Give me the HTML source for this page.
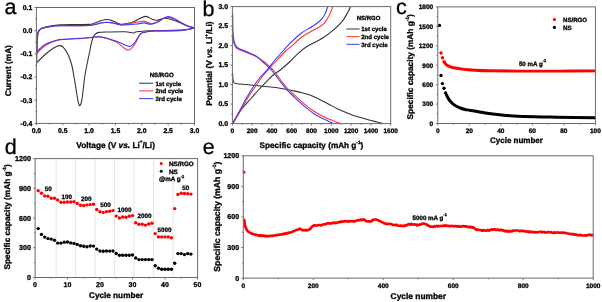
<!DOCTYPE html>
<html><head><meta charset="utf-8"><style>
html,body{margin:0;padding:0;background:#fff;width:602px;height:302px;overflow:hidden}
svg{display:block;filter:blur(0.3px)}
text{font-family:"Liberation Sans",sans-serif;fill:#000;stroke:#000;stroke-width:0.3px;text-rendering:geometricPrecision}
</style></head><body>
<svg width="602" height="302" viewBox="0 0 602 302">
<defs>
<clipPath id="ca"><rect x="36.4" y="7.5" width="158.1" height="115.9"/></clipPath>
<clipPath id="cb"><rect x="232.4" y="6.6" width="158.29999999999998" height="117.0"/></clipPath>
<clipPath id="cc"><rect x="437.8" y="6.9" width="157.59999999999997" height="116.6"/></clipPath>
<clipPath id="ce"><rect x="243.3" y="155.8" width="349.90000000000003" height="122.30000000000001"/></clipPath>
</defs>
<rect width="602" height="302" fill="#fff"/>
<g clip-path="url(#ca)">
<path d="M194.5 27.8 C193.18 28.08 190.43 29.08 186.6 29.5 C182.77 29.92 177.88 30.1 171.5 30.3 C165.12 30.5 154.12 30.45 148.3 30.7 C142.48 30.95 139.13 31.42 136.6 31.8 C134.07 32.18 135.03 33 133.1 33 C131.17 33 129.28 31.97 125 31.8 C120.72 31.63 111.73 31.9 107.4 32 C103.07 32.1 100.98 32.07 99 32.4 C97.02 32.73 96.5 33.15 95.5 34 C94.5 34.85 93.72 35.83 93 37.5 C92.28 39.17 91.7 41.92 91.2 44 C90.7 46.08 90.62 47 90 50 C89.38 53 88.33 57.83 87.5 62 C86.67 66.17 85.67 70.83 85 75 C84.33 79.17 83.95 83.33 83.5 87 C83.05 90.67 82.68 94.33 82.3 97 C81.92 99.67 81.58 101.58 81.2 103 C80.82 104.42 80.4 105.25 80 105.5 C79.6 105.75 79.2 105.58 78.8 104.5 C78.4 103.42 78.07 101.58 77.6 99 C77.13 96.42 76.65 93 76 89 C75.35 85 74.37 78.83 73.7 75 C73.03 71.17 72.62 68.58 72 66 C71.38 63.42 70.75 61.58 70 59.5 C69.25 57.42 68.33 55.17 67.5 53.5 C66.67 51.83 65.83 50.67 65 49.5 C64.17 48.33 63.33 47.15 62.5 46.5 C61.67 45.85 60.92 45.65 60 45.6 C59.08 45.55 58.17 45.72 57 46.2 C55.83 46.68 54.17 47.78 53 48.5 C51.83 49.22 51.5 49.33 50 50.5 C48.5 51.67 45.75 53.92 44 55.5 C42.25 57.08 40.72 58.83 39.5 60 C38.28 61.17 37.17 62.08 36.7 62.5" fill="none" stroke="#333" stroke-width="1.08" stroke-linejoin="round" stroke-linecap="round" />
<path d="M36.7 62.5 C36.75 60.08 36.82 52.58 37 48 C37.18 43.42 37.38 38 37.8 35 C38.22 32 38.8 31.17 39.5 30 C40.2 28.83 40.25 28.67 42 28 C43.75 27.33 47 26.53 50 26 C53 25.47 55.83 25.05 60 24.8 C64.17 24.55 70.17 24.57 75 24.5 C79.83 24.43 85.67 24.65 89 24.4 C92.33 24.15 93.17 23.57 95 23 C96.83 22.43 98 21.58 100 21 C102 20.42 104.83 19.5 107 19.5 C109.17 19.5 110.75 20.22 113 21 C115.25 21.78 118.5 23.75 120.5 24.2 C122.5 24.65 123.08 23.98 125 23.7 C126.92 23.42 129.67 23.28 132 22.5 C134.33 21.72 136.72 20.02 139 19 C141.28 17.98 143.38 16.3 145.7 16.4 C148.02 16.5 151.12 18.97 152.9 19.6 C154.68 20.23 155.23 20.2 156.4 20.2 C157.57 20.2 158.55 19.93 159.9 19.6 C161.25 19.27 162.57 18.2 164.5 18.2 C166.43 18.2 168.97 18.88 171.5 19.6 C174.03 20.32 176.98 21.43 179.7 22.5 C182.42 23.57 185.33 25.12 187.8 26 C190.27 26.88 193.38 27.5 194.5 27.8" fill="none" stroke="#333" stroke-width="1.08" stroke-linejoin="round" stroke-linecap="round" />
<path d="M194.5 27.8 C193.38 28.08 190.67 29.02 187.8 29.5 C184.93 29.98 182.92 30.45 177.3 30.7 C171.68 30.95 159.72 30.72 154.1 31 C148.48 31.28 145.98 31.77 143.6 32.4 C141.22 33.03 141.2 32.95 139.8 34.8 C138.4 36.65 136.67 41.17 135.2 43.5 C133.73 45.83 132.17 47.72 131 48.8 C129.83 49.88 129.12 49.97 128.2 50 C127.28 50.03 126.27 49.4 125.5 49 C124.73 48.6 125.07 48.7 123.6 47.6 C122.13 46.5 118.58 43.63 116.7 42.4 C114.82 41.17 114.25 40.93 112.3 40.2 C110.35 39.47 107.32 38.55 105 38 C102.68 37.45 100.47 37 98.4 36.9 C96.33 36.8 94.83 37.17 92.6 37.4 C90.37 37.63 87.77 38.07 85 38.3 C82.23 38.53 79.83 38.6 76 38.8 C72.17 39 65.67 39.1 62 39.5 C58.33 39.9 56.67 40.28 54 41.2 C51.33 42.12 48.33 43.53 46 45 C43.67 46.47 41.55 48.5 40 50 C38.45 51.5 37.25 53.33 36.7 54" fill="none" stroke="#ff3030" stroke-width="1.08" stroke-linejoin="round" stroke-linecap="round" />
<path d="M36.7 54 C36.75 52 36.82 45.5 37 42 C37.18 38.5 37.38 35 37.8 33 C38.22 31 38.8 30.75 39.5 30 C40.2 29.25 40.25 29.03 42 28.5 C43.75 27.97 47 27.25 50 26.8 C53 26.35 55.83 26 60 25.8 C64.17 25.6 70.17 25.65 75 25.6 C79.83 25.55 85.67 25.68 89 25.5 C92.33 25.32 93.17 24.88 95 24.5 C96.83 24.12 98 23.58 100 23.2 C102 22.82 104.83 22.23 107 22.2 C109.17 22.17 110.83 22.57 113 23 C115.17 23.43 118 24.58 120 24.8 C122 25.02 122.82 24.62 125 24.3 C127.18 23.98 130.77 23.32 133.1 22.9 C135.43 22.48 137.15 22.05 139 21.8 C140.85 21.55 142.08 21.08 144.2 21.4 C146.32 21.72 149.47 23.6 151.7 23.7 C153.93 23.8 155.27 23.07 157.6 22 C159.93 20.93 163 17.8 165.7 17.3 C168.4 16.8 171.28 18.13 173.8 19 C176.32 19.87 178.47 21.33 180.8 22.5 C183.13 23.67 185.52 25.12 187.8 26 C190.08 26.88 193.38 27.5 194.5 27.8" fill="none" stroke="#ff3030" stroke-width="1.08" stroke-linejoin="round" stroke-linecap="round" />
<path d="M194.5 27.8 C193.38 28.08 190.67 29.02 187.8 29.5 C184.93 29.98 182.92 30.45 177.3 30.7 C171.68 30.95 159.72 30.72 154.1 31 C148.48 31.28 145.98 31.82 143.6 32.4 C141.22 32.98 141.2 32.9 139.8 34.5 C138.4 36.1 136.58 40.15 135.2 42 C133.82 43.85 132.47 44.87 131.5 45.6 C130.53 46.33 130.15 46.37 129.4 46.4 C128.65 46.43 127.77 46.05 127 45.8 C126.23 45.55 126.52 45.67 124.8 44.9 C123.08 44.13 118.78 42.02 116.7 41.2 C114.62 40.38 114.25 40.57 112.3 40 C110.35 39.43 107.32 38.35 105 37.8 C102.68 37.25 100.47 36.8 98.4 36.7 C96.33 36.6 94.83 36.98 92.6 37.2 C90.37 37.42 87.77 37.78 85 38 C82.23 38.22 79.83 38.28 76 38.5 C72.17 38.72 65.67 38.88 62 39.3 C58.33 39.72 56.67 40.22 54 41 C51.33 41.78 48.33 42.75 46 44 C43.67 45.25 41.55 47.17 40 48.5 C38.45 49.83 37.25 51.42 36.7 52" fill="none" stroke="#3a3aff" stroke-width="1.08" stroke-linejoin="round" stroke-linecap="round" />
<path d="M36.7 52 C36.75 50.17 36.82 44.17 37 41 C37.18 37.83 37.38 34.83 37.8 33 C38.22 31.17 38.8 30.75 39.5 30 C40.2 29.25 40.25 29.03 42 28.5 C43.75 27.97 47 27.25 50 26.8 C53 26.35 55.83 26 60 25.8 C64.17 25.6 70.17 25.65 75 25.6 C79.83 25.55 85.67 25.68 89 25.5 C92.33 25.32 93.17 24.88 95 24.5 C96.83 24.12 98 23.58 100 23.2 C102 22.82 104.83 22.23 107 22.2 C109.17 22.17 110.83 22.57 113 23 C115.17 23.43 118 24.48 120 24.8 C122 25.12 122.23 25.03 125 24.9 C127.77 24.77 133.4 24.33 136.6 24 C139.8 23.67 141.87 22.85 144.2 22.9 C146.53 22.95 148.37 24.45 150.6 24.3 C152.83 24.15 154.8 23.27 157.6 22 C160.4 20.73 164.5 17.2 167.4 16.7 C170.3 16.2 172.77 18.03 175 19 C177.23 19.97 178.67 21.33 180.8 22.5 C182.93 23.67 185.52 25.12 187.8 26 C190.08 26.88 193.38 27.5 194.5 27.8" fill="none" stroke="#3a3aff" stroke-width="1.08" stroke-linejoin="round" stroke-linecap="round" />
</g>
<rect x="36.4" y="7.5" width="158.1" height="115.9" fill="none" stroke="#6a6a6a" stroke-width="1.0"/>
<line x1="36.4" y1="123.4" x2="36.4" y2="125.4" stroke="#6a6a6a" stroke-width="0.9"/>
<text x="36.4" y="133.1" font-size="6.8" text-anchor="middle" font-weight="bold" >0.0</text>
<line x1="62.75" y1="123.4" x2="62.75" y2="125.4" stroke="#6a6a6a" stroke-width="0.9"/>
<text x="62.75" y="133.1" font-size="6.8" text-anchor="middle" font-weight="bold" >0.5</text>
<line x1="89.1" y1="123.4" x2="89.1" y2="125.4" stroke="#6a6a6a" stroke-width="0.9"/>
<text x="89.1" y="133.1" font-size="6.8" text-anchor="middle" font-weight="bold" >1.0</text>
<line x1="115.45" y1="123.4" x2="115.45" y2="125.4" stroke="#6a6a6a" stroke-width="0.9"/>
<text x="115.45" y="133.1" font-size="6.8" text-anchor="middle" font-weight="bold" >1.5</text>
<line x1="141.8" y1="123.4" x2="141.8" y2="125.4" stroke="#6a6a6a" stroke-width="0.9"/>
<text x="141.8" y="133.1" font-size="6.8" text-anchor="middle" font-weight="bold" >2.0</text>
<line x1="168.15" y1="123.4" x2="168.15" y2="125.4" stroke="#6a6a6a" stroke-width="0.9"/>
<text x="168.15" y="133.1" font-size="6.8" text-anchor="middle" font-weight="bold" >2.5</text>
<line x1="194.5" y1="123.4" x2="194.5" y2="125.4" stroke="#6a6a6a" stroke-width="0.9"/>
<text x="194.5" y="133.1" font-size="6.8" text-anchor="middle" font-weight="bold" >3.0</text>
<line x1="49.57" y1="123.4" x2="49.57" y2="124.6" stroke="#6a6a6a" stroke-width="0.9"/>
<line x1="75.92" y1="123.4" x2="75.92" y2="124.6" stroke="#6a6a6a" stroke-width="0.9"/>
<line x1="102.28" y1="123.4" x2="102.28" y2="124.6" stroke="#6a6a6a" stroke-width="0.9"/>
<line x1="128.62" y1="123.4" x2="128.62" y2="124.6" stroke="#6a6a6a" stroke-width="0.9"/>
<line x1="154.97" y1="123.4" x2="154.97" y2="124.6" stroke="#6a6a6a" stroke-width="0.9"/>
<line x1="181.32" y1="123.4" x2="181.32" y2="124.6" stroke="#6a6a6a" stroke-width="0.9"/>
<line x1="36.4" y1="7.5" x2="34.4" y2="7.5" stroke="#6a6a6a" stroke-width="0.9"/>
<text x="32.3" y="9.9" font-size="6.9" text-anchor="end" font-weight="bold" >0.1</text>
<line x1="36.4" y1="30.68" x2="34.4" y2="30.68" stroke="#6a6a6a" stroke-width="0.9"/>
<text x="32.3" y="33.08" font-size="6.9" text-anchor="end" font-weight="bold" >0.0</text>
<line x1="36.4" y1="53.86" x2="34.4" y2="53.86" stroke="#6a6a6a" stroke-width="0.9"/>
<text x="32.3" y="56.26" font-size="6.9" text-anchor="end" font-weight="bold" >-0.1</text>
<line x1="36.4" y1="77.04" x2="34.4" y2="77.04" stroke="#6a6a6a" stroke-width="0.9"/>
<text x="32.3" y="79.44" font-size="6.9" text-anchor="end" font-weight="bold" >-0.2</text>
<line x1="36.4" y1="100.22" x2="34.4" y2="100.22" stroke="#6a6a6a" stroke-width="0.9"/>
<text x="32.3" y="102.62" font-size="6.9" text-anchor="end" font-weight="bold" >-0.3</text>
<line x1="36.4" y1="123.4" x2="34.4" y2="123.4" stroke="#6a6a6a" stroke-width="0.9"/>
<text x="32.3" y="125.8" font-size="6.9" text-anchor="end" font-weight="bold" >-0.4</text>
<line x1="36.4" y1="19.09" x2="35.2" y2="19.09" stroke="#6a6a6a" stroke-width="0.9"/>
<line x1="36.4" y1="42.27" x2="35.2" y2="42.27" stroke="#6a6a6a" stroke-width="0.9"/>
<line x1="36.4" y1="65.45" x2="35.2" y2="65.45" stroke="#6a6a6a" stroke-width="0.9"/>
<line x1="36.4" y1="88.63" x2="35.2" y2="88.63" stroke="#6a6a6a" stroke-width="0.9"/>
<line x1="36.4" y1="111.81" x2="35.2" y2="111.81" stroke="#6a6a6a" stroke-width="0.9"/>
<text transform="translate(10.6 70.7) rotate(-90)" x="0" y="0" font-size="8.3" text-anchor="middle" font-weight="bold">Current (mA)</text>
<text x="76.3" y="147.7" font-size="8.3" text-anchor="start" font-weight="bold" >Voltage (V <tspan font-style="italic">vs.</tspan> Li<tspan font-size="4.6" dy="-4.3">+</tspan><tspan dy="4.3">/Li)</tspan></text>
<text x="161.7" y="77.4" font-size="6.1" text-anchor="middle" font-weight="bold" >NS/RGO</text>
<line x1="139.1" y1="83.2" x2="153.2" y2="83.2" stroke="#333" stroke-width="1"/>
<text x="155.4" y="85.5" font-size="6.1" text-anchor="start" font-weight="bold" >1st cycle</text>
<line x1="139.1" y1="90.9" x2="153.2" y2="90.9" stroke="#ff3030" stroke-width="1"/>
<text x="155.4" y="93.2" font-size="6.1" text-anchor="start" font-weight="bold" >2nd cycle</text>
<line x1="139.1" y1="98.6" x2="153.2" y2="98.6" stroke="#3a3aff" stroke-width="1"/>
<text x="155.4" y="100.9" font-size="6.1" text-anchor="start" font-weight="bold" >3rd cycle</text>
<text x="4.5" y="14" font-size="21.5" text-anchor="start" font-weight="normal" >a</text>
<g clip-path="url(#cb)">
<path d="M232.6 73 C232.65 74 232.7 77.42 232.9 79 C233.1 80.58 233.12 81.7 233.8 82.5 C234.48 83.3 234.63 83.42 237 83.8 C239.37 84.18 242.87 84.3 248 84.8 C253.13 85.3 262.47 86.22 267.8 86.8 C273.13 87.38 275.47 87.58 280 88.3 C284.53 89.02 291.17 90.32 295 91.1 C298.83 91.88 300.5 92.35 303 93 C305.5 93.65 307.37 94.02 310 95 C312.63 95.98 315.57 97.3 318.8 98.9 C322.03 100.5 326.32 102.97 329.4 104.6 C332.48 106.23 334.7 107.45 337.3 108.7 C339.9 109.95 342.55 111.07 345 112.1 C347.45 113.13 349.45 113.98 352 114.9 C354.55 115.82 357.3 116.7 360.3 117.6 C363.3 118.5 367.22 119.57 370 120.3 C372.78 121.03 374.8 121.45 377 122 C379.2 122.55 382.17 123.33 383.2 123.6" fill="none" stroke="#333" stroke-width="1.08" stroke-linejoin="round" stroke-linecap="round" />
<path d="M232.6 123.8 C233.25 122.67 235.1 119.3 236.5 117 C237.9 114.7 238.58 113.08 241 110 C243.42 106.92 248.17 101.75 251 98.5 C253.83 95.25 255.67 93.07 258 90.5 C260.33 87.93 262.45 85.68 265 83.1 C267.55 80.52 270.53 77.35 273.3 75 C276.07 72.65 278.82 71.25 281.6 69 C284.38 66.75 287.23 64.12 290 61.5 C292.77 58.88 295.45 55.77 298.2 53.3 C300.95 50.83 303.7 48.53 306.5 46.7 C309.3 44.87 311.92 44 315 42.3 C318.08 40.6 321.87 38.6 325 36.5 C328.13 34.4 330.9 32.27 333.8 29.7 C336.7 27.13 340.08 23.97 342.4 21.1 C344.72 18.23 346.35 14.92 347.7 12.5 C349.05 10.08 350.03 7.58 350.5 6.6" fill="none" stroke="#333" stroke-width="1.08" stroke-linejoin="round" stroke-linecap="round" />
<path d="M232.7 36 C232.83 37 233.12 40.33 233.5 42 C233.88 43.67 234.25 44.83 235 46 C235.75 47.17 235.67 47.75 238 49 C240.33 50.25 246 52.25 249 53.5 C252 54.75 253.53 55.17 256 56.5 C258.47 57.83 261.63 59.92 263.8 61.5 C265.97 63.08 267.02 64.08 269 66 C270.98 67.92 273.7 70.58 275.7 73 C277.7 75.42 279.02 77.92 281 80.5 C282.98 83.08 285.27 85.98 287.6 88.5 C289.93 91.02 292.67 93.42 295 95.6 C297.33 97.78 299.4 99.68 301.6 101.6 C303.8 103.52 306 105.4 308.2 107.1 C310.4 108.8 312.58 110.38 314.8 111.8 C317.02 113.22 319.28 114.43 321.5 115.6 C323.72 116.77 325.9 117.83 328.1 118.8 C330.3 119.77 332.62 120.6 334.7 121.4 C336.78 122.2 339.62 123.23 340.6 123.6" fill="none" stroke="#ff3030" stroke-width="1.08" stroke-linejoin="round" stroke-linecap="round" />
<path d="M232.6 123.8 C234 121.5 238.43 114.38 241 110 C243.57 105.62 245.53 101.5 248 97.5 C250.47 93.5 253.47 89.42 255.8 86 C258.13 82.58 259.68 80 262 77 C264.32 74 267.03 71 269.7 68 C272.37 65 275.18 62 278 59 C280.82 56 284.47 52.02 286.6 50 C288.73 47.98 288.32 49.02 290.8 46.9 C293.28 44.78 297.92 39.98 301.5 37.3 C305.08 34.62 308.72 32.95 312.3 30.8 C315.88 28.65 320.13 27.08 323 24.4 C325.87 21.72 327.88 17.67 329.5 14.7 C331.12 11.73 332.17 7.95 332.7 6.6" fill="none" stroke="#ff3030" stroke-width="1.08" stroke-linejoin="round" stroke-linecap="round" />
<path d="M232.7 14 C232.73 16.33 232.77 24 232.9 28 C233.03 32 233.15 35.33 233.5 38 C233.85 40.67 234.25 42.33 235 44 C235.75 45.67 235.67 46.55 238 48 C240.33 49.45 246 51.37 249 52.7 C252 54.03 253.7 54.45 256 56 C258.3 57.55 260.18 59.58 262.8 62 C265.42 64.42 269.17 67.75 271.7 70.5 C274.23 73.25 275.67 75.53 278 78.5 C280.33 81.47 283.7 85.88 285.7 88.3 C287.7 90.72 288.45 91.42 290 93 C291.55 94.58 293.07 96 295 97.8 C296.93 99.6 299.4 101.87 301.6 103.8 C303.8 105.73 306 107.65 308.2 109.4 C310.4 111.15 312.58 112.85 314.8 114.3 C317.02 115.75 319.28 116.97 321.5 118.1 C323.72 119.23 326.12 120.18 328.1 121.1 C330.08 122.02 332.52 123.18 333.4 123.6" fill="none" stroke="#3a3aff" stroke-width="1.08" stroke-linejoin="round" stroke-linecap="round" />
<path d="M232.6 123.8 C233.83 121.5 237.6 114.47 240 110 C242.4 105.53 244.7 101 247 97 C249.3 93 251.63 89.25 253.8 86 C255.97 82.75 257.67 80.33 260 77.5 C262.33 74.67 265.3 71.92 267.8 69 C270.3 66.08 272.35 63.17 275 60 C277.65 56.83 281.07 52.9 283.7 50 C286.33 47.1 287.83 45.43 290.8 42.6 C293.77 39.77 297.92 35.68 301.5 33 C305.08 30.32 309.07 28.67 312.3 26.5 C315.53 24.33 318.75 22.15 320.9 20 C323.05 17.85 324.07 15.83 325.2 13.6 C326.33 11.37 327.28 7.77 327.7 6.6" fill="none" stroke="#3a3aff" stroke-width="1.08" stroke-linejoin="round" stroke-linecap="round" />
</g>
<rect x="232.4" y="6.6" width="158.3" height="117" fill="none" stroke="#6a6a6a" stroke-width="1.0"/>
<line x1="232.4" y1="123.6" x2="232.4" y2="125.6" stroke="#6a6a6a" stroke-width="0.9"/>
<text x="232.4" y="133.2" font-size="6.5" text-anchor="middle" font-weight="bold" >0</text>
<line x1="252.19" y1="123.6" x2="252.19" y2="125.6" stroke="#6a6a6a" stroke-width="0.9"/>
<text x="252.19" y="133.2" font-size="6.5" text-anchor="middle" font-weight="bold" >200</text>
<line x1="271.98" y1="123.6" x2="271.98" y2="125.6" stroke="#6a6a6a" stroke-width="0.9"/>
<text x="271.98" y="133.2" font-size="6.5" text-anchor="middle" font-weight="bold" >400</text>
<line x1="291.76" y1="123.6" x2="291.76" y2="125.6" stroke="#6a6a6a" stroke-width="0.9"/>
<text x="291.76" y="133.2" font-size="6.5" text-anchor="middle" font-weight="bold" >600</text>
<line x1="311.55" y1="123.6" x2="311.55" y2="125.6" stroke="#6a6a6a" stroke-width="0.9"/>
<text x="311.55" y="133.2" font-size="6.5" text-anchor="middle" font-weight="bold" >800</text>
<line x1="331.34" y1="123.6" x2="331.34" y2="125.6" stroke="#6a6a6a" stroke-width="0.9"/>
<text x="331.34" y="133.2" font-size="6.5" text-anchor="middle" font-weight="bold" >1000</text>
<line x1="351.12" y1="123.6" x2="351.12" y2="125.6" stroke="#6a6a6a" stroke-width="0.9"/>
<text x="351.12" y="133.2" font-size="6.5" text-anchor="middle" font-weight="bold" >1200</text>
<line x1="370.91" y1="123.6" x2="370.91" y2="125.6" stroke="#6a6a6a" stroke-width="0.9"/>
<text x="370.91" y="133.2" font-size="6.5" text-anchor="middle" font-weight="bold" >1400</text>
<line x1="390.7" y1="123.6" x2="390.7" y2="125.6" stroke="#6a6a6a" stroke-width="0.9"/>
<text x="390.7" y="133.2" font-size="6.5" text-anchor="middle" font-weight="bold" >1600</text>
<line x1="242.29" y1="123.6" x2="242.29" y2="124.8" stroke="#6a6a6a" stroke-width="0.9"/>
<line x1="262.08" y1="123.6" x2="262.08" y2="124.8" stroke="#6a6a6a" stroke-width="0.9"/>
<line x1="281.87" y1="123.6" x2="281.87" y2="124.8" stroke="#6a6a6a" stroke-width="0.9"/>
<line x1="301.66" y1="123.6" x2="301.66" y2="124.8" stroke="#6a6a6a" stroke-width="0.9"/>
<line x1="321.44" y1="123.6" x2="321.44" y2="124.8" stroke="#6a6a6a" stroke-width="0.9"/>
<line x1="341.23" y1="123.6" x2="341.23" y2="124.8" stroke="#6a6a6a" stroke-width="0.9"/>
<line x1="361.02" y1="123.6" x2="361.02" y2="124.8" stroke="#6a6a6a" stroke-width="0.9"/>
<line x1="380.81" y1="123.6" x2="380.81" y2="124.8" stroke="#6a6a6a" stroke-width="0.9"/>
<line x1="232.4" y1="123.6" x2="230.4" y2="123.6" stroke="#6a6a6a" stroke-width="0.9"/>
<text x="228.1" y="125.7" font-size="6.9" text-anchor="end" font-weight="bold" >0.0</text>
<line x1="232.4" y1="104.1" x2="230.4" y2="104.1" stroke="#6a6a6a" stroke-width="0.9"/>
<text x="228.1" y="106.2" font-size="6.9" text-anchor="end" font-weight="bold" >0.5</text>
<line x1="232.4" y1="84.6" x2="230.4" y2="84.6" stroke="#6a6a6a" stroke-width="0.9"/>
<text x="228.1" y="86.7" font-size="6.9" text-anchor="end" font-weight="bold" >1.0</text>
<line x1="232.4" y1="65.1" x2="230.4" y2="65.1" stroke="#6a6a6a" stroke-width="0.9"/>
<text x="228.1" y="67.2" font-size="6.9" text-anchor="end" font-weight="bold" >1.5</text>
<line x1="232.4" y1="45.6" x2="230.4" y2="45.6" stroke="#6a6a6a" stroke-width="0.9"/>
<text x="228.1" y="47.7" font-size="6.9" text-anchor="end" font-weight="bold" >2.0</text>
<line x1="232.4" y1="26.1" x2="230.4" y2="26.1" stroke="#6a6a6a" stroke-width="0.9"/>
<text x="228.1" y="28.2" font-size="6.9" text-anchor="end" font-weight="bold" >2.5</text>
<line x1="232.4" y1="6.6" x2="230.4" y2="6.6" stroke="#6a6a6a" stroke-width="0.9"/>
<text x="228.1" y="8.7" font-size="6.9" text-anchor="end" font-weight="bold" >3.0</text>
<line x1="232.4" y1="113.85" x2="231.2" y2="113.85" stroke="#6a6a6a" stroke-width="0.9"/>
<line x1="232.4" y1="94.35" x2="231.2" y2="94.35" stroke="#6a6a6a" stroke-width="0.9"/>
<line x1="232.4" y1="74.85" x2="231.2" y2="74.85" stroke="#6a6a6a" stroke-width="0.9"/>
<line x1="232.4" y1="55.35" x2="231.2" y2="55.35" stroke="#6a6a6a" stroke-width="0.9"/>
<line x1="232.4" y1="35.85" x2="231.2" y2="35.85" stroke="#6a6a6a" stroke-width="0.9"/>
<line x1="232.4" y1="16.35" x2="231.2" y2="16.35" stroke="#6a6a6a" stroke-width="0.9"/>
<text transform="translate(211.9 63.7) rotate(-90)" x="0" y="0" font-size="8.3" text-anchor="middle" font-weight="bold">Potential (V <tspan font-style="italic">vs.</tspan> Li<tspan font-size="4.6" dy="-4.3">+</tspan><tspan dy="4.3">/Li)</tspan></text>
<text x="259.6" y="147.7" font-size="8.18" text-anchor="start" font-weight="bold" >Specific capacity (mAh g<tspan font-size="4.8" dy="-4.1">-1</tspan><tspan dy="4.1">)</tspan></text>
<text x="368.6" y="19.6" font-size="6.0" text-anchor="middle" font-weight="bold" >NS/RGO</text>
<line x1="346.4" y1="29" x2="359.6" y2="29" stroke="#333" stroke-width="1"/>
<text x="361.2" y="31.3" font-size="6.1" text-anchor="start" font-weight="bold" >1st cycle</text>
<line x1="346.4" y1="36.65" x2="359.6" y2="36.65" stroke="#ff3030" stroke-width="1"/>
<text x="361.2" y="38.95" font-size="6.1" text-anchor="start" font-weight="bold" >2nd cycle</text>
<line x1="346.4" y1="44.3" x2="359.6" y2="44.3" stroke="#3a3aff" stroke-width="1"/>
<text x="361.2" y="46.6" font-size="6.1" text-anchor="start" font-weight="bold" >3rd cycle</text>
<text x="202.5" y="15.9" font-size="21.5" text-anchor="start" font-weight="normal" >b</text>
<g clip-path="url(#cc)">
<path d="M444.5 62.5 C444.75 62.82 445.38 63.83 446 64.4 C446.62 64.97 447.37 65.47 448.2 65.9 C449.03 66.33 449.88 66.65 451 67 C452.12 67.35 453.07 67.65 454.9 68 C456.73 68.35 458.65 68.73 462 69.1 C465.35 69.47 470.33 69.92 475 70.2 C479.67 70.48 482.5 70.65 490 70.8 C497.5 70.95 508.33 71.05 520 71.1 C531.67 71.15 547.43 71.13 560 71.1 C572.57 71.07 589.5 70.93 595.4 70.9" fill="none" stroke="#ff0000" stroke-width="2.9" stroke-linejoin="round" stroke-linecap="round" />
<circle cx="441" cy="53" r="1.7" fill="#ff0000"/>
<circle cx="442.5" cy="57.8" r="1.7" fill="#ff0000"/>
<circle cx="444" cy="61.8" r="1.7" fill="#ff0000"/>
<path d="M446.5 95 C446.82 95.6 447.73 97.52 448.4 98.6 C449.07 99.68 449.75 100.63 450.5 101.5 C451.25 102.37 451.98 103.05 452.9 103.8 C453.82 104.55 454.77 105.3 456 106 C457.23 106.7 458.8 107.42 460.3 108 C461.8 108.58 463.27 109.1 465 109.5 C466.73 109.9 466.98 109.77 470.7 110.4 C474.42 111.03 482.42 112.57 487.3 113.3 C492.18 114.03 495.68 114.37 500 114.8 C504.32 115.23 507.4 115.57 513.2 115.9 C519 116.23 527.6 116.58 534.8 116.8 C542 117.02 546.3 117.05 556.4 117.2 C566.5 117.35 588.9 117.62 595.4 117.7" fill="none" stroke="#000" stroke-width="3.0" stroke-linejoin="round" stroke-linecap="round" />
<circle cx="439.5" cy="25.4" r="1.7" fill="#000"/>
<circle cx="441" cy="75.4" r="1.7" fill="#000"/>
<circle cx="442.4" cy="83.6" r="1.7" fill="#000"/>
<circle cx="444" cy="88.2" r="1.7" fill="#000"/>
<circle cx="445.6" cy="92.9" r="1.7" fill="#000"/>
</g>
<rect x="437.8" y="6.9" width="157.6" height="116.6" fill="none" stroke="#6a6a6a" stroke-width="1.0"/>
<line x1="437.8" y1="123.5" x2="437.8" y2="125.5" stroke="#6a6a6a" stroke-width="0.9"/>
<text x="437.8" y="133.2" font-size="6.5" text-anchor="middle" font-weight="bold" >0</text>
<line x1="469.32" y1="123.5" x2="469.32" y2="125.5" stroke="#6a6a6a" stroke-width="0.9"/>
<text x="469.32" y="133.2" font-size="6.5" text-anchor="middle" font-weight="bold" >20</text>
<line x1="500.84" y1="123.5" x2="500.84" y2="125.5" stroke="#6a6a6a" stroke-width="0.9"/>
<text x="500.84" y="133.2" font-size="6.5" text-anchor="middle" font-weight="bold" >40</text>
<line x1="532.36" y1="123.5" x2="532.36" y2="125.5" stroke="#6a6a6a" stroke-width="0.9"/>
<text x="532.36" y="133.2" font-size="6.5" text-anchor="middle" font-weight="bold" >60</text>
<line x1="563.88" y1="123.5" x2="563.88" y2="125.5" stroke="#6a6a6a" stroke-width="0.9"/>
<text x="563.88" y="133.2" font-size="6.5" text-anchor="middle" font-weight="bold" >80</text>
<line x1="595.4" y1="123.5" x2="595.4" y2="125.5" stroke="#6a6a6a" stroke-width="0.9"/>
<text x="595.4" y="133.2" font-size="6.5" text-anchor="middle" font-weight="bold" >100</text>
<line x1="453.56" y1="123.5" x2="453.56" y2="124.7" stroke="#6a6a6a" stroke-width="0.9"/>
<line x1="485.08" y1="123.5" x2="485.08" y2="124.7" stroke="#6a6a6a" stroke-width="0.9"/>
<line x1="516.6" y1="123.5" x2="516.6" y2="124.7" stroke="#6a6a6a" stroke-width="0.9"/>
<line x1="548.12" y1="123.5" x2="548.12" y2="124.7" stroke="#6a6a6a" stroke-width="0.9"/>
<line x1="579.64" y1="123.5" x2="579.64" y2="124.7" stroke="#6a6a6a" stroke-width="0.9"/>
<line x1="437.8" y1="123.5" x2="435.8" y2="123.5" stroke="#6a6a6a" stroke-width="0.9"/>
<text x="433.2" y="125.8" font-size="6.5" text-anchor="end" font-weight="bold" >0</text>
<line x1="437.8" y1="104.07" x2="435.8" y2="104.07" stroke="#6a6a6a" stroke-width="0.9"/>
<text x="433.2" y="106.37" font-size="6.5" text-anchor="end" font-weight="bold" >300</text>
<line x1="437.8" y1="84.63" x2="435.8" y2="84.63" stroke="#6a6a6a" stroke-width="0.9"/>
<text x="433.2" y="86.93" font-size="6.5" text-anchor="end" font-weight="bold" >600</text>
<line x1="437.8" y1="65.2" x2="435.8" y2="65.2" stroke="#6a6a6a" stroke-width="0.9"/>
<text x="433.2" y="67.5" font-size="6.5" text-anchor="end" font-weight="bold" >900</text>
<line x1="437.8" y1="45.77" x2="435.8" y2="45.77" stroke="#6a6a6a" stroke-width="0.9"/>
<text x="433.2" y="48.07" font-size="6.5" text-anchor="end" font-weight="bold" >1200</text>
<line x1="437.8" y1="26.33" x2="435.8" y2="26.33" stroke="#6a6a6a" stroke-width="0.9"/>
<text x="433.2" y="28.63" font-size="6.5" text-anchor="end" font-weight="bold" >1500</text>
<line x1="437.8" y1="6.9" x2="435.8" y2="6.9" stroke="#6a6a6a" stroke-width="0.9"/>
<text x="433.2" y="9.2" font-size="6.5" text-anchor="end" font-weight="bold" >1800</text>
<line x1="437.8" y1="113.78" x2="436.6" y2="113.78" stroke="#6a6a6a" stroke-width="0.9"/>
<line x1="437.8" y1="94.35" x2="436.6" y2="94.35" stroke="#6a6a6a" stroke-width="0.9"/>
<line x1="437.8" y1="74.92" x2="436.6" y2="74.92" stroke="#6a6a6a" stroke-width="0.9"/>
<line x1="437.8" y1="55.48" x2="436.6" y2="55.48" stroke="#6a6a6a" stroke-width="0.9"/>
<line x1="437.8" y1="36.05" x2="436.6" y2="36.05" stroke="#6a6a6a" stroke-width="0.9"/>
<line x1="437.8" y1="16.62" x2="436.6" y2="16.62" stroke="#6a6a6a" stroke-width="0.9"/>
<text transform="translate(412.6 66.8) rotate(-90)" x="0" y="0" font-size="8.3" text-anchor="middle" font-weight="bold">Specific capacity (mAh g<tspan font-size="4.8" dy="-4.1">-1</tspan><tspan dy="4.1">)</tspan></text>
<text x="490" y="143.3" font-size="8.0" text-anchor="start" font-weight="bold" >Cycle number</text>
<circle cx="554.4" cy="19.5" r="1.6" fill="#ff0000"/>
<circle cx="554.4" cy="27.4" r="1.6" fill="#000"/>
<text x="563" y="21.7" font-size="6.1" text-anchor="start" font-weight="bold" >NS/RGO</text>
<text x="563" y="29.5" font-size="6.2" text-anchor="start" font-weight="bold" >NS</text>
<text x="518.9" y="66" font-size="6.2" text-anchor="start" font-weight="bold" >50 mA g<tspan font-size="4" dy="-3.6">-1</tspan></text>
<text x="396" y="14.2" font-size="21.5" text-anchor="start" font-weight="normal" >c</text>
<line x1="56.08" y1="158.6" x2="56.08" y2="277.5" stroke="#aaa" stroke-width="0.6" stroke-dasharray="1 1"/>
<line x1="75.58" y1="158.6" x2="75.58" y2="277.5" stroke="#aaa" stroke-width="0.6" stroke-dasharray="1 1"/>
<line x1="95.08" y1="158.6" x2="95.08" y2="277.5" stroke="#aaa" stroke-width="0.6" stroke-dasharray="1 1"/>
<line x1="114.58" y1="158.6" x2="114.58" y2="277.5" stroke="#aaa" stroke-width="0.6" stroke-dasharray="1 1"/>
<line x1="134.07" y1="158.6" x2="134.07" y2="277.5" stroke="#aaa" stroke-width="0.6" stroke-dasharray="1 1"/>
<line x1="153.57" y1="158.6" x2="153.57" y2="277.5" stroke="#aaa" stroke-width="0.6" stroke-dasharray="1 1"/>
<line x1="173.07" y1="158.6" x2="173.07" y2="277.5" stroke="#aaa" stroke-width="0.6" stroke-dasharray="1 1"/>
<circle cx="38.2" cy="190.7" r="1.7" fill="#ff0000"/>
<circle cx="41.45" cy="193.3" r="1.7" fill="#ff0000"/>
<circle cx="44.7" cy="195.9" r="1.7" fill="#ff0000"/>
<circle cx="47.95" cy="196.2" r="1.7" fill="#ff0000"/>
<circle cx="51.2" cy="198.2" r="1.7" fill="#ff0000"/>
<circle cx="54.45" cy="198.3" r="1.7" fill="#ff0000"/>
<circle cx="57.7" cy="199.9" r="1.7" fill="#ff0000"/>
<circle cx="60.95" cy="202.2" r="1.7" fill="#ff0000"/>
<circle cx="64.2" cy="202.2" r="1.7" fill="#ff0000"/>
<circle cx="67.45" cy="202" r="1.7" fill="#ff0000"/>
<circle cx="70.7" cy="202" r="1.7" fill="#ff0000"/>
<circle cx="73.95" cy="201.8" r="1.7" fill="#ff0000"/>
<circle cx="77.2" cy="203.5" r="1.7" fill="#ff0000"/>
<circle cx="80.45" cy="205.3" r="1.7" fill="#ff0000"/>
<circle cx="83.7" cy="205.5" r="1.7" fill="#ff0000"/>
<circle cx="86.95" cy="204.9" r="1.7" fill="#ff0000"/>
<circle cx="90.2" cy="204.6" r="1.7" fill="#ff0000"/>
<circle cx="93.45" cy="204.3" r="1.7" fill="#ff0000"/>
<circle cx="96.7" cy="209.5" r="1.7" fill="#ff0000"/>
<circle cx="99.95" cy="211.8" r="1.7" fill="#ff0000"/>
<circle cx="103.2" cy="212.4" r="1.7" fill="#ff0000"/>
<circle cx="106.45" cy="211.6" r="1.7" fill="#ff0000"/>
<circle cx="109.7" cy="211.2" r="1.7" fill="#ff0000"/>
<circle cx="112.95" cy="210.6" r="1.7" fill="#ff0000"/>
<circle cx="116.2" cy="216.1" r="1.7" fill="#ff0000"/>
<circle cx="119.45" cy="218" r="1.7" fill="#ff0000"/>
<circle cx="122.7" cy="217" r="1.7" fill="#ff0000"/>
<circle cx="125.95" cy="217.2" r="1.7" fill="#ff0000"/>
<circle cx="129.2" cy="216.2" r="1.7" fill="#ff0000"/>
<circle cx="132.45" cy="215.6" r="1.7" fill="#ff0000"/>
<circle cx="135.7" cy="222.8" r="1.7" fill="#ff0000"/>
<circle cx="138.95" cy="224.3" r="1.7" fill="#ff0000"/>
<circle cx="142.2" cy="224.2" r="1.7" fill="#ff0000"/>
<circle cx="145.45" cy="225.1" r="1.7" fill="#ff0000"/>
<circle cx="148.7" cy="224" r="1.7" fill="#ff0000"/>
<circle cx="151.95" cy="223.2" r="1.7" fill="#ff0000"/>
<circle cx="155.2" cy="233.6" r="1.7" fill="#ff0000"/>
<circle cx="158.45" cy="236.9" r="1.7" fill="#ff0000"/>
<circle cx="161.7" cy="236.9" r="1.7" fill="#ff0000"/>
<circle cx="164.95" cy="236.9" r="1.7" fill="#ff0000"/>
<circle cx="168.2" cy="236.9" r="1.7" fill="#ff0000"/>
<circle cx="171.45" cy="237.7" r="1.7" fill="#ff0000"/>
<circle cx="174.7" cy="208.6" r="1.7" fill="#ff0000"/>
<circle cx="177.95" cy="194.5" r="1.7" fill="#ff0000"/>
<circle cx="181.2" cy="193.2" r="1.7" fill="#ff0000"/>
<circle cx="184.45" cy="193.5" r="1.7" fill="#ff0000"/>
<circle cx="187.7" cy="193.7" r="1.7" fill="#ff0000"/>
<circle cx="190.95" cy="194.1" r="1.7" fill="#ff0000"/>
<circle cx="38.2" cy="228.6" r="1.7" fill="#000"/>
<circle cx="41.45" cy="234.4" r="1.7" fill="#000"/>
<circle cx="44.7" cy="237.1" r="1.7" fill="#000"/>
<circle cx="47.95" cy="238.6" r="1.7" fill="#000"/>
<circle cx="51.2" cy="239.1" r="1.7" fill="#000"/>
<circle cx="54.45" cy="240.2" r="1.7" fill="#000"/>
<circle cx="57.7" cy="243.1" r="1.7" fill="#000"/>
<circle cx="60.95" cy="243.1" r="1.7" fill="#000"/>
<circle cx="64.2" cy="242.3" r="1.7" fill="#000"/>
<circle cx="67.45" cy="242" r="1.7" fill="#000"/>
<circle cx="70.7" cy="242.9" r="1.7" fill="#000"/>
<circle cx="73.95" cy="243.4" r="1.7" fill="#000"/>
<circle cx="77.2" cy="244.4" r="1.7" fill="#000"/>
<circle cx="80.45" cy="245.8" r="1.7" fill="#000"/>
<circle cx="83.7" cy="246.3" r="1.7" fill="#000"/>
<circle cx="86.95" cy="246.7" r="1.7" fill="#000"/>
<circle cx="90.2" cy="246" r="1.7" fill="#000"/>
<circle cx="93.45" cy="246.1" r="1.7" fill="#000"/>
<circle cx="96.7" cy="249.1" r="1.7" fill="#000"/>
<circle cx="99.95" cy="251" r="1.7" fill="#000"/>
<circle cx="103.2" cy="251.2" r="1.7" fill="#000"/>
<circle cx="106.45" cy="251" r="1.7" fill="#000"/>
<circle cx="109.7" cy="251.1" r="1.7" fill="#000"/>
<circle cx="112.95" cy="251" r="1.7" fill="#000"/>
<circle cx="116.2" cy="253.5" r="1.7" fill="#000"/>
<circle cx="119.45" cy="255.3" r="1.7" fill="#000"/>
<circle cx="122.7" cy="255.3" r="1.7" fill="#000"/>
<circle cx="125.95" cy="255.3" r="1.7" fill="#000"/>
<circle cx="129.2" cy="255.3" r="1.7" fill="#000"/>
<circle cx="132.45" cy="255" r="1.7" fill="#000"/>
<circle cx="135.7" cy="258" r="1.7" fill="#000"/>
<circle cx="138.95" cy="259.6" r="1.7" fill="#000"/>
<circle cx="142.2" cy="259.6" r="1.7" fill="#000"/>
<circle cx="145.45" cy="259.6" r="1.7" fill="#000"/>
<circle cx="148.7" cy="259.6" r="1.7" fill="#000"/>
<circle cx="151.95" cy="259.6" r="1.7" fill="#000"/>
<circle cx="155.2" cy="265.8" r="1.7" fill="#000"/>
<circle cx="158.45" cy="268.2" r="1.7" fill="#000"/>
<circle cx="161.7" cy="269.2" r="1.7" fill="#000"/>
<circle cx="164.95" cy="269.2" r="1.7" fill="#000"/>
<circle cx="168.2" cy="269.2" r="1.7" fill="#000"/>
<circle cx="171.45" cy="269.2" r="1.7" fill="#000"/>
<circle cx="174.7" cy="263.2" r="1.7" fill="#000"/>
<circle cx="177.95" cy="253.6" r="1.7" fill="#000"/>
<circle cx="181.2" cy="253.6" r="1.7" fill="#000"/>
<circle cx="184.45" cy="254.6" r="1.7" fill="#000"/>
<circle cx="187.7" cy="253.6" r="1.7" fill="#000"/>
<circle cx="190.95" cy="254.1" r="1.7" fill="#000"/>
<rect x="35.1" y="158.6" width="162.5" height="118.9" fill="none" stroke="#6a6a6a" stroke-width="1.0"/>
<line x1="34.95" y1="277.5" x2="34.95" y2="279.5" stroke="#6a6a6a" stroke-width="0.9"/>
<text x="34.95" y="287.4" font-size="7.0" text-anchor="middle" font-weight="bold" >0</text>
<line x1="67.45" y1="277.5" x2="67.45" y2="279.5" stroke="#6a6a6a" stroke-width="0.9"/>
<text x="67.45" y="287.4" font-size="7.0" text-anchor="middle" font-weight="bold" >10</text>
<line x1="99.95" y1="277.5" x2="99.95" y2="279.5" stroke="#6a6a6a" stroke-width="0.9"/>
<text x="99.95" y="287.4" font-size="7.0" text-anchor="middle" font-weight="bold" >20</text>
<line x1="132.45" y1="277.5" x2="132.45" y2="279.5" stroke="#6a6a6a" stroke-width="0.9"/>
<text x="132.45" y="287.4" font-size="7.0" text-anchor="middle" font-weight="bold" >30</text>
<line x1="164.95" y1="277.5" x2="164.95" y2="279.5" stroke="#6a6a6a" stroke-width="0.9"/>
<text x="164.95" y="287.4" font-size="7.0" text-anchor="middle" font-weight="bold" >40</text>
<line x1="197.45" y1="277.5" x2="197.45" y2="279.5" stroke="#6a6a6a" stroke-width="0.9"/>
<text x="197.45" y="287.4" font-size="7.0" text-anchor="middle" font-weight="bold" >50</text>
<line x1="51.2" y1="277.5" x2="51.2" y2="278.7" stroke="#6a6a6a" stroke-width="0.9"/>
<line x1="83.7" y1="277.5" x2="83.7" y2="278.7" stroke="#6a6a6a" stroke-width="0.9"/>
<line x1="116.2" y1="277.5" x2="116.2" y2="278.7" stroke="#6a6a6a" stroke-width="0.9"/>
<line x1="148.7" y1="277.5" x2="148.7" y2="278.7" stroke="#6a6a6a" stroke-width="0.9"/>
<line x1="181.2" y1="277.5" x2="181.2" y2="278.7" stroke="#6a6a6a" stroke-width="0.9"/>
<line x1="35.1" y1="277.5" x2="33.1" y2="277.5" stroke="#6a6a6a" stroke-width="0.9"/>
<text x="31.1" y="280" font-size="7.2" text-anchor="end" font-weight="bold" >0</text>
<line x1="35.1" y1="247.78" x2="33.1" y2="247.78" stroke="#6a6a6a" stroke-width="0.9"/>
<text x="31.1" y="250.28" font-size="7.2" text-anchor="end" font-weight="bold" >300</text>
<line x1="35.1" y1="218.05" x2="33.1" y2="218.05" stroke="#6a6a6a" stroke-width="0.9"/>
<text x="31.1" y="220.55" font-size="7.2" text-anchor="end" font-weight="bold" >600</text>
<line x1="35.1" y1="188.32" x2="33.1" y2="188.32" stroke="#6a6a6a" stroke-width="0.9"/>
<text x="31.1" y="190.82" font-size="7.2" text-anchor="end" font-weight="bold" >900</text>
<line x1="35.1" y1="158.6" x2="33.1" y2="158.6" stroke="#6a6a6a" stroke-width="0.9"/>
<text x="31.1" y="161.1" font-size="7.2" text-anchor="end" font-weight="bold" >1200</text>
<line x1="35.1" y1="262.64" x2="33.9" y2="262.64" stroke="#6a6a6a" stroke-width="0.9"/>
<line x1="35.1" y1="232.91" x2="33.9" y2="232.91" stroke="#6a6a6a" stroke-width="0.9"/>
<line x1="35.1" y1="203.19" x2="33.9" y2="203.19" stroke="#6a6a6a" stroke-width="0.9"/>
<line x1="35.1" y1="173.46" x2="33.9" y2="173.46" stroke="#6a6a6a" stroke-width="0.9"/>
<text transform="translate(10.2 216.9) rotate(-90)" x="0" y="0" font-size="8.3" text-anchor="middle" font-weight="bold">Specific capacity (mAh g<tspan font-size="4.8" dy="-4.1">-1</tspan><tspan dy="4.1">)</tspan></text>
<text x="89" y="298.2" font-size="8.2" text-anchor="start" font-weight="bold" >Cycle number</text>
<text x="48.2" y="191.3" font-size="6.3" text-anchor="middle" font-weight="bold" >50</text>
<text x="66.8" y="199.4" font-size="6.3" text-anchor="middle" font-weight="bold" >100</text>
<text x="86.2" y="201" font-size="6.3" text-anchor="middle" font-weight="bold" >200</text>
<text x="105.6" y="207.3" font-size="6.3" text-anchor="middle" font-weight="bold" >500</text>
<text x="124.5" y="212.4" font-size="6.3" text-anchor="middle" font-weight="bold" >1000</text>
<text x="144.5" y="218.2" font-size="6.3" text-anchor="middle" font-weight="bold" >2000</text>
<text x="164.5" y="231.9" font-size="6.3" text-anchor="middle" font-weight="bold" >5000</text>
<text x="185.8" y="190.1" font-size="6.3" text-anchor="middle" font-weight="bold" >50</text>
<circle cx="161.2" cy="163.5" r="1.5" fill="#ff0000"/>
<circle cx="161.2" cy="171.2" r="1.5" fill="#000"/>
<text x="168.9" y="165.7" font-size="6.3" text-anchor="start" font-weight="bold" >NS/RGO</text>
<text x="168.9" y="173.5" font-size="6.3" text-anchor="start" font-weight="bold" >NS</text>
<text x="159" y="181.4" font-size="6.3" text-anchor="start" font-weight="bold" >@mA g<tspan font-size="4" dy="-3">-1</tspan></text>
<text x="4.8" y="154.1" font-size="21.5" text-anchor="start" font-weight="normal" >d</text>
<g clip-path="url(#ce)">
<path d="M244.2 219.7 C244.25 220.08 244.38 221.03 244.5 222 C244.62 222.97 244.83 224.92 244.9 225.5" fill="none" stroke="#ff0000" stroke-width="2.6" stroke-linejoin="round" stroke-linecap="round" />
<path d="M244.5 221.84 L244.9 225.19 L246 228.64 L246.66 229.43 L247.5 231.03 L248.28 231.62 L249.17 232.04 L250 233.01 L250.97 233.11 L252 233.84 L252.65 233.72 L253.35 233.94 L254.13 234.44 L255 234.99 L255.65 234.49 L256.36 234.7 L257.1 235.18 L257.87 235.58 L258.64 235.36 L259.4 235.31 L260.14 235.94 L260.87 235.21 L261.61 236.05 L262.36 235.64 L263.16 235.6 L264 235.66 L264.69 235.88 L265.43 236.38 L266.2 235.85 L266.98 236.25 L267.76 236.33 L268.52 236.1 L269.24 236.26 L269.9 235.81 L270.82 235.74 L271.63 235.77 L272.39 236.06 L273.16 235.69 L274 235.43 L274.78 235.54 L275.6 235.27 L276.45 234.98 L277.3 235.26 L278.12 235.02 L278.9 234.47 L279.76 234.62 L280.56 234.43 L281.35 234.62 L282.15 234.35 L283 233.81 L283.77 234.31 L284.57 233.42 L285.39 233.57 L286.22 233.75 L287.03 233.06 L287.8 233.19 L288.67 232.55 L289.49 232.87 L290.31 232.68 L291.13 232.2 L292 232.14 L292.79 231.31 L293.62 231.28 L294.48 230.8 L295.31 230.4 L296.1 229.94 L296.8 230.01 L297.68 229.77 L298.43 229.09 L299.11 229.1 L299.8 228.5 L300.7 229.27 L301.57 229.6 L302.5 230.24 L303.29 230.26 L304.13 229.92 L304.98 230.12 L305.8 230.45 L306.59 229.94 L307.37 230.38 L308.11 230.09 L308.8 229.86 L309.59 229.23 L310.3 229.05 L311 227.67 L311.67 226.98 L312.35 226.32 L313.2 226.13 L313.84 225.19 L314.54 225.38 L315.3 225.38 L316.12 225.61 L317 225.49 L317.68 225.49 L318.42 224.94 L319.2 225.05 L320 224.99 L320.78 225.45 L321.52 225.48 L322.2 224.69 L323.05 224.55 L323.81 224.4 L324.53 224.18 L325.25 224.18 L326 224.08 L326.72 223.63 L327.39 223.26 L328.1 223.51 L328.94 223.33 L330 223.36 L330.58 223.63 L331.22 223.32 L331.92 223.08 L332.66 223.09 L333.42 223.06 L334.21 222.41 L335 223.09 L335.78 222.9 L336.55 222.9 L337.3 222.75 L338 222.3 L338.73 222.22 L339.42 221.87 L340.08 222.26 L340.73 221.66 L341.38 221.59 L342.03 221.63 L342.71 221.51 L343.42 221.6 L344.18 221.26 L345 221.15 L345.63 221.24 L346.29 221.16 L346.99 221.37 L347.71 221.03 L348.46 221.77 L349.21 221.51 L349.97 221.07 L350.74 221.14 L351.5 221.2 L352.24 221.18 L352.98 220.92 L353.68 221.53 L354.36 221.61 L355 221.07 L355.86 220.97 L356.71 220.47 L357.53 220.32 L358.33 220.35 L359.1 220.1 L359.84 220.43 L360.54 219.67 L361.2 219.42 L361.83 220.16 L362.4 219.73 L363.36 219.41 L364.1 219.93 L364.73 219.7 L365.33 220.4 L366 221.03 L366.72 221.18 L367.41 221.34 L368.13 221.23 L368.91 221.5 L369.8 221.3 L370.43 221.66 L371.11 221.12 L371.82 220.92 L372.57 220.06 L373.33 219.52 L374.1 219.69 L374.86 219.6 L375.6 219.42 L376.32 219.51 L377.01 219.82 L377.7 220.16 L378.39 220.19 L379.11 220.97 L379.85 221.33 L380.65 221.5 L381.5 221.88 L382.17 222.32 L382.89 222.51 L383.65 223.09 L384.43 223.51 L385.23 223.22 L386.03 223.81 L386.84 224.01 L387.62 224.12 L388.39 223.72 L389.12 223.72 L389.8 223.85 L390.67 223.98 L391.48 224.12 L392.24 224.62 L392.98 224.97 L393.71 225.02 L394.44 224.78 L395.2 225.04 L396 225.27 L396.66 224.72 L397.33 225.35 L398 225.69 L398.68 225.7 L399.36 225.79 L400.06 225.65 L400.77 225.46 L401.5 226.06 L402.24 225.67 L403 226.07 L403.72 226.15 L404.48 225.51 L405.27 225.36 L406.07 225.66 L406.88 225.25 L407.69 224.54 L408.49 224.3 L409.27 224.13 L410.02 224.65 L410.74 224.44 L411.4 223.78 L412.22 224.4 L412.96 224.62 L413.64 224.48 L414.28 224.38 L414.91 224.75 L415.56 224.53 L416.25 224.53 L417 225.42 L417.65 225.08 L418.32 224.85 L419.01 225.06 L419.71 224.42 L420.43 224.62 L421.16 224.39 L421.89 223.67 L422.63 223.59 L423.37 223.58 L424.1 223.57 L424.82 224.01 L425.51 223.95 L426.19 224.39 L426.87 224.47 L427.57 225.54 L428.29 225.42 L429.04 225.86 L429.83 226.28 L430.68 226.81 L431.6 226.53 L432.2 227.02 L432.82 226.66 L433.45 226.68 L434.09 226.64 L434.75 226.14 L435.42 226.45 L436.11 226.14 L436.82 225.9 L437.54 226.52 L438.29 225.87 L439.05 226.05 L439.84 226.2 L440.64 225.97 L441.47 225.71 L442.32 225.84 L443.2 225.85 L443.8 226.05 L444.43 225.44 L445.08 225.85 L445.74 225.57 L446.43 225.61 L447.12 226.06 L447.83 225.84 L448.56 225.9 L449.29 226.1 L450.02 226.26 L450.77 225.86 L451.51 226.03 L452.26 225.96 L453.01 225.99 L453.75 226.18 L454.49 226 L455.22 226.1 L455.95 226.08 L456.66 226.53 L457.36 226.35 L458.05 226.54 L458.72 226.63 L459.37 226.05 L460 226.35 L460.83 226.74 L461.66 226.7 L462.5 226.11 L463.33 226.14 L464.15 226.48 L464.97 226.2 L465.78 226.4 L466.57 226.31 L467.34 226.9 L468.09 227.07 L468.82 227.23 L469.52 226.63 L470.19 227.2 L470.83 227.22 L471.43 226.83 L472 227.58 L472.52 227.73 L473 227.15 L474.41 228.29 L474.99 228.36 L475.42 229.01 L476.4 229.94 L476.93 229.93 L477.51 229.46 L478.15 229.83 L478.84 230.03 L479.56 229.99 L480.3 229.97 L481.06 230.18 L481.83 230.63 L482.6 230.06 L483.35 230.6 L484.09 230.53 L484.8 230.17 L485.56 230.43 L486.32 230.64 L487.08 230.45 L487.85 229.94 L488.61 230.65 L489.37 230.34 L490.11 230.37 L490.86 229.47 L491.58 229.51 L492.3 229.23 L493 229.85 L493.74 229.37 L494.46 229.24 L495.15 229.52 L495.82 229.99 L496.49 229.94 L497.16 229.49 L497.84 229.45 L498.54 230.22 L499.25 229.98 L500 230.18 L500.71 229.72 L501.43 229.81 L502.17 230.51 L502.92 230.41 L503.68 230.25 L504.45 231.17 L505.23 231.04 L506 231.32 L506.77 230.79 L507.54 231.57 L508.3 230.91 L509.02 231.64 L509.7 231.25 L510.34 231.1 L510.98 231.23 L511.62 231.48 L512.28 230.8 L512.99 230.6 L513.75 230.89 L514.6 230.58 L515.54 230.44 L516.6 230.5 L517.15 230.41 L517.73 230.58 L518.34 230.71 L518.96 230.74 L519.61 231.2 L520.29 230.82 L520.98 231.07 L521.68 230.83 L522.4 231.05 L523.14 230.81 L523.88 231.09 L524.63 230.94 L525.4 231.65 L526.16 231.56 L526.93 231.3 L527.7 231.62 L528.48 232.09 L529.25 231.41 L530.01 232.1 L530.77 231.81 L531.52 231.91 L532.27 232.26 L533 231.9 L533.7 232.04 L534.4 232.23 L535.1 232.52 L535.81 231.97 L536.51 232.43 L537.22 232.33 L537.93 232.28 L538.64 232.09 L539.36 232.05 L540.07 231.8 L540.79 231.88 L541.5 231.83 L542.21 232.45 L542.93 232.02 L543.64 231.95 L544.36 231.89 L545.07 232.58 L545.78 232.62 L546.49 232.45 L547.19 232.12 L547.9 232.1 L548.6 232.17 L549.3 232.34 L550 232.09 L550.73 232.38 L551.46 232.24 L552.19 232.9 L552.92 232.94 L553.66 232.59 L554.39 232.35 L555.13 233.03 L555.86 232.47 L556.59 232.54 L557.32 232.26 L558.05 232.64 L558.77 232.76 L559.5 232.82 L560.21 232.59 L560.93 232.9 L561.63 232.5 L562.34 232.78 L563.03 232.67 L563.72 232.99 L564.4 232.72 L565.08 232.76 L565.74 233.07 L566.4 233.06 L567.18 233.45 L567.95 233.49 L568.71 233.78 L569.46 233.79 L570.19 233.95 L570.92 234.21 L571.64 233.88 L572.35 233.94 L573.06 234.64 L573.76 234 L574.46 234.63 L575.15 234.67 L575.85 234.23 L576.54 235.04 L577.23 235.18 L577.92 235.03 L578.61 235.2 L579.3 235.33 L580 234.78 L580.76 235.16 L581.54 235.18 L582.35 235.49 L583.18 235.48 L584.02 235.5 L584.86 235.28 L585.7 235.55 L586.53 235.34 L587.35 235.34 L588.15 234.9 L588.92 234.7 L589.65 234.77 L590.35 234.95 L591 234.7 L591.59 235.34 L592.13 235.07 L592.6 235.12 L593 235.11" fill="none" stroke="#ff0000" stroke-width="2.6" stroke-linejoin="round" stroke-linecap="round" />
<circle cx="244.1" cy="172.3" r="1.4" fill="#ff0000"/>
</g>
<rect x="243.3" y="155.8" width="349.9" height="122.3" fill="none" stroke="#6a6a6a" stroke-width="1.0"/>
<line x1="243.3" y1="278.1" x2="243.3" y2="280.1" stroke="#6a6a6a" stroke-width="0.9"/>
<text x="243.3" y="288.3" font-size="6.5" text-anchor="middle" font-weight="bold" >0</text>
<line x1="313.28" y1="278.1" x2="313.28" y2="280.1" stroke="#6a6a6a" stroke-width="0.9"/>
<text x="313.28" y="288.3" font-size="6.5" text-anchor="middle" font-weight="bold" >200</text>
<line x1="383.26" y1="278.1" x2="383.26" y2="280.1" stroke="#6a6a6a" stroke-width="0.9"/>
<text x="383.26" y="288.3" font-size="6.5" text-anchor="middle" font-weight="bold" >400</text>
<line x1="453.24" y1="278.1" x2="453.24" y2="280.1" stroke="#6a6a6a" stroke-width="0.9"/>
<text x="453.24" y="288.3" font-size="6.5" text-anchor="middle" font-weight="bold" >600</text>
<line x1="523.22" y1="278.1" x2="523.22" y2="280.1" stroke="#6a6a6a" stroke-width="0.9"/>
<text x="523.22" y="288.3" font-size="6.5" text-anchor="middle" font-weight="bold" >800</text>
<line x1="593.2" y1="278.1" x2="593.2" y2="280.1" stroke="#6a6a6a" stroke-width="0.9"/>
<text x="593.2" y="288.3" font-size="6.5" text-anchor="middle" font-weight="bold" >1000</text>
<line x1="278.29" y1="278.1" x2="278.29" y2="279.3" stroke="#6a6a6a" stroke-width="0.9"/>
<line x1="348.27" y1="278.1" x2="348.27" y2="279.3" stroke="#6a6a6a" stroke-width="0.9"/>
<line x1="418.25" y1="278.1" x2="418.25" y2="279.3" stroke="#6a6a6a" stroke-width="0.9"/>
<line x1="488.23" y1="278.1" x2="488.23" y2="279.3" stroke="#6a6a6a" stroke-width="0.9"/>
<line x1="558.21" y1="278.1" x2="558.21" y2="279.3" stroke="#6a6a6a" stroke-width="0.9"/>
<line x1="243.3" y1="278.1" x2="241.3" y2="278.1" stroke="#6a6a6a" stroke-width="0.9"/>
<text x="239.2" y="280.6" font-size="7.1" text-anchor="end" font-weight="bold" >0</text>
<line x1="243.3" y1="247.53" x2="241.3" y2="247.53" stroke="#6a6a6a" stroke-width="0.9"/>
<text x="239.2" y="250.03" font-size="7.1" text-anchor="end" font-weight="bold" >300</text>
<line x1="243.3" y1="216.95" x2="241.3" y2="216.95" stroke="#6a6a6a" stroke-width="0.9"/>
<text x="239.2" y="219.45" font-size="7.1" text-anchor="end" font-weight="bold" >600</text>
<line x1="243.3" y1="186.38" x2="241.3" y2="186.38" stroke="#6a6a6a" stroke-width="0.9"/>
<text x="239.2" y="188.88" font-size="7.1" text-anchor="end" font-weight="bold" >900</text>
<line x1="243.3" y1="155.8" x2="241.3" y2="155.8" stroke="#6a6a6a" stroke-width="0.9"/>
<text x="239.2" y="158.3" font-size="7.1" text-anchor="end" font-weight="bold" >1200</text>
<line x1="243.3" y1="262.81" x2="242.1" y2="262.81" stroke="#6a6a6a" stroke-width="0.9"/>
<line x1="243.3" y1="232.24" x2="242.1" y2="232.24" stroke="#6a6a6a" stroke-width="0.9"/>
<line x1="243.3" y1="201.66" x2="242.1" y2="201.66" stroke="#6a6a6a" stroke-width="0.9"/>
<line x1="243.3" y1="171.09" x2="242.1" y2="171.09" stroke="#6a6a6a" stroke-width="0.9"/>
<text transform="translate(220.2 216.6) rotate(-90)" x="0" y="0" font-size="8.7" text-anchor="middle" font-weight="bold">Specific capacity (mAh g<tspan font-size="5" dy="-4.3">-1</tspan><tspan dy="4.3">)</tspan></text>
<text x="390.6" y="299.2" font-size="8.4" text-anchor="start" font-weight="bold" >Cycle number</text>
<text x="412.6" y="219.6" font-size="6.2" text-anchor="start" font-weight="bold" >5000 mA g<tspan font-size="4" dy="-3.6">-1</tspan></text>
<text x="202.8" y="153.7" font-size="21.5" text-anchor="start" font-weight="normal" >e</text>
</svg>
</body></html>
